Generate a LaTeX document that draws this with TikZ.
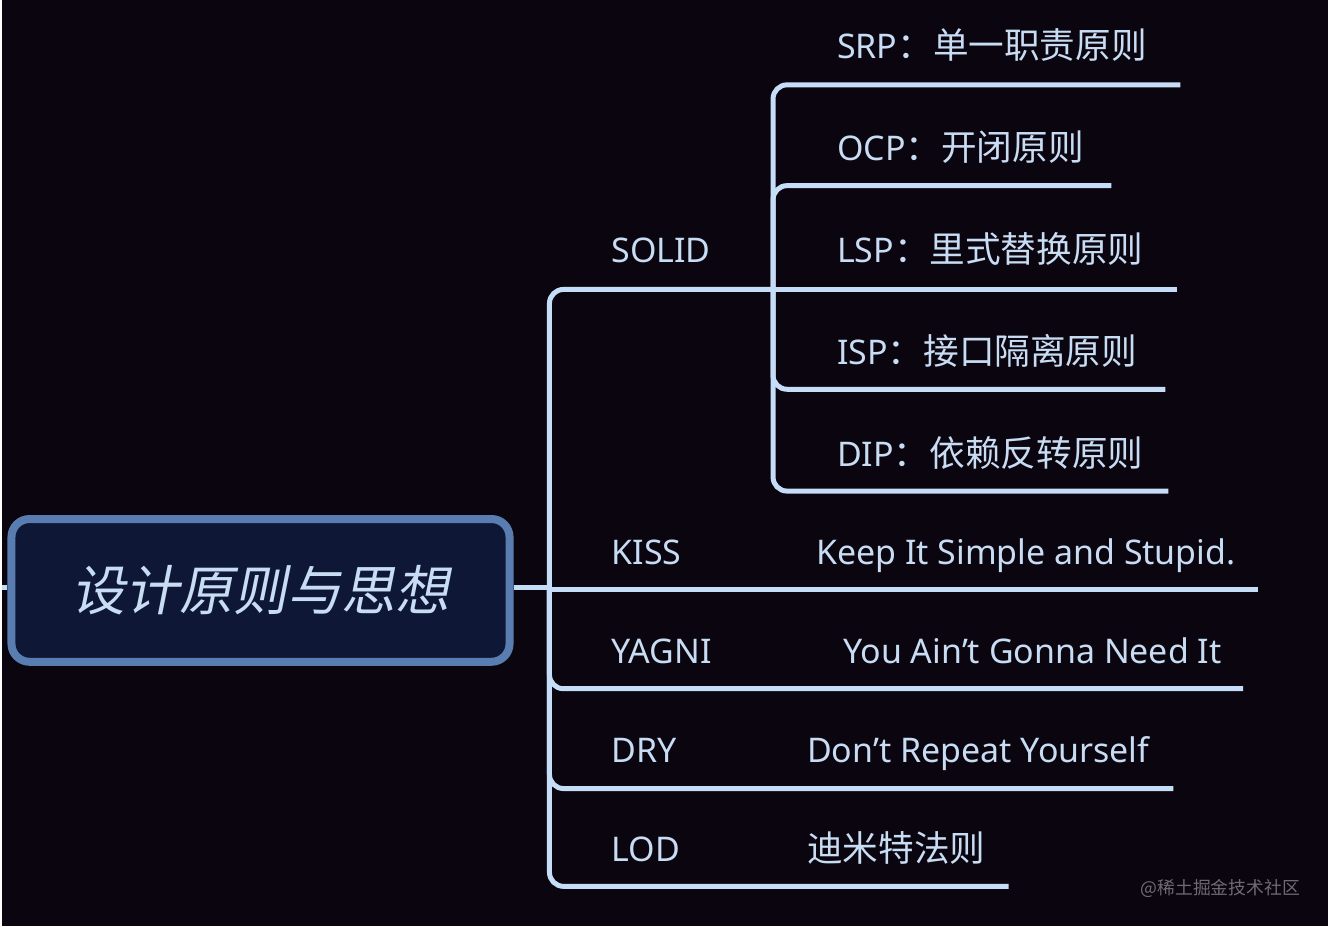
\documentclass[tikz,border=0pt]{standalone}
\usepackage{fontspec}
\setmainfont{Noto Sans}
\newfontfamily\cjk[Scale=1.05]{Noto Sans CJK SC}
\newfontfamily\cjkslant[FakeSlant=0.2]{Noto Sans CJK SC}
\definecolor{bg}{HTML}{0A050E}
\definecolor{linecol}{HTML}{C6DDF7}
\definecolor{textcol}{HTML}{C8DCF4}
\definecolor{rootfill}{HTML}{0E1736}
\definecolor{rootdraw}{HTML}{5A7DB1}
\definecolor{markcol}{HTML}{6E6B73}

\begin{document}
\begin{tikzpicture}[x=1pt, y=-1pt,
	branch/.style = {draw=linecol, line width=5pt, rounded corners=14pt},
	main/.style = {draw=rootdraw, fill=rootfill, line width=8pt, rounded corners=18pt,
		minimum width=499pt, minimum height=143pt, text=textcol,
		font=\cjkslant\fontsize{54}{60}\selectfont},
	topic/.style = {anchor=base west, inner sep=0pt, text=textcol, font=\fontsize{34}{40}\selectfont},
	rest/.style = {draw=none, text=markcol, font=\cjk\fontsize{17}{20}\selectfont}]
\fill[bg] (0,0) rectangle (1328,928);
\node[main] (root) at (258.5,591.5) {设计原则与思想};
\coordinate (stub) at (0,589);
\coordinate (hub) at (548,589);
\coordinate (solid-e) at (772,290);
\coordinate (srp-e) at (1180,85);
\coordinate (ocp-e) at (1111,186);
\coordinate (lsp-e) at (1177,290);
\coordinate (isp-e) at (1165,390);
\coordinate (dip-e) at (1168,492);
\coordinate (kiss-e) at (1258,591);
\coordinate (yagni-e) at (1243,690);
\coordinate (dry-e) at (1173,790);
\coordinate (lod-e) at (1008,888);
\draw[branch] (stub) -- (root.west |- stub);
\draw[branch] (root.east |- hub) -- (hub);
\draw[branch] (hub) |- (solid-e);
\draw[branch] (solid-e) |- (srp-e);
\draw[branch] (solid-e) |- (ocp-e);
\draw[branch] (solid-e) -- (lsp-e);
\draw[branch] (solid-e) |- (isp-e);
\draw[branch] (solid-e) |- (dip-e);
\draw[branch] (hub |- kiss-e) -- (kiss-e);
\draw[branch] (hub) |- (yagni-e);
\draw[branch] (hub) |- (dry-e);
\draw[branch] (hub) |- (lod-e);
\node[topic] (solid) at (610,263) {SOLID};
\node[topic] (srp) at (836,59) {SRP{\cjk ：单一职责原则}};
\node[topic] (ocp) at (836,161) {OCP{\cjk ：开闭原则}};
\node[topic] (lsp) at (836,263) {LSP{\cjk ：里式替换原则}};
\node[topic] (isp) at (836,365) {ISP{\cjk ：接口隔离原则}};
\node[topic] (dip) at (836,467) {DIP{\cjk ：依赖反转原则}};
\node[topic] (kiss) at (610,566) {KISS};
\node[topic] (kiss-d) at (815,566) {Keep It Simple and Stupid.};
\node[topic] (yagni) at (610,665) {YAGNI};
\node[topic] (yagni-d) at (842,665) {You Ain’t Gonna Need It};
\node[topic] (dry) at (610,764) {DRY};
\node[topic] (dry-d) at (806,764) {Don’t Repeat Yourself};
\node[topic] (lod) at (610,863) {LOD};
\node[topic] (lod-d) at (806,863) {\cjk 迪米特法则};
\node[rest] (mark) at (1220,890) {@稀土掘金技术社区};
\end{tikzpicture}
\end{document}
